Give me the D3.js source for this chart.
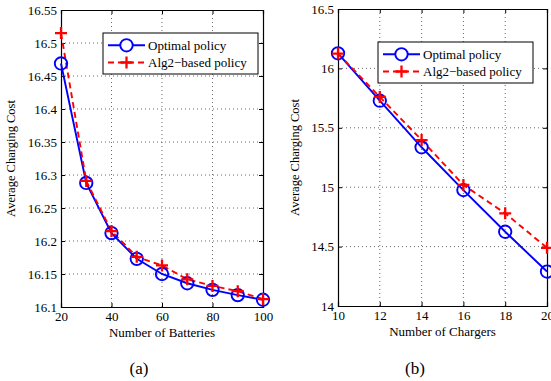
<!DOCTYPE html>
<html><head><meta charset="utf-8">
<script src="https://cdn.jsdelivr.net/npm/d3@7"></script>
<style>body{margin:0;background:#fff}svg{display:block}svg text{font-family:"Liberation Serif","Times New Roman",Times,serif !important}</style>
</head><body>
<svg id="c" width="551" height="381"></svg>
<script>
const batteries = [20,30,40,50,60,70,80,90,100];
const optimalA = [16.469,16.288,16.212,16.173,16.150,16.136,16.126,16.118,16.111];
const alg2A    = [16.515,16.291,16.215,16.176,16.163,16.142,16.132,16.124,16.112];
const chargers = [10,12,14,16,18,20];
const optimalB = [16.127,15.728,15.336,14.976,14.625,14.290];
const alg2B    = [16.125,15.760,15.397,15.019,14.780,14.490];
const xTicksA = [20,40,60,80,100];
const yTicksA = [16.1,16.15,16.2,16.25,16.3,16.35,16.4,16.45,16.5,16.55];
const xTicksB = [10,12,14,16,18,20];
const yTicksB = [14,14.5,15,15.5,16,16.5];
const seriesNames = ["Optimal policy","Alg2\u2212based policy"];

const FONT = '"Liberation Serif","Times New Roman",Times,serif';
const svg = d3.select("#c");

function panel(cfg){
  const g = svg.append("g").attr("font-family",FONT);
  const x = d3.scaleLinear().domain(cfg.xd).range([cfg.l, cfg.r]);
  const y = d3.scaleLinear().domain(cfg.yd).range([cfg.b, cfg.t]);
  // grid
  g.append("g").selectAll("line").data(cfg.xt.slice(1,-1)).join("line")
    .attr("x1",d=>x(d)).attr("x2",d=>x(d)).attr("y1",cfg.t).attr("y2",cfg.b)
    .attr("stroke","#444").attr("stroke-width",0.8).attr("stroke-dasharray","1,3");
  g.append("g").selectAll("line").data(cfg.yt.slice(1,-1)).join("line")
    .attr("y1",d=>y(d)).attr("y2",d=>y(d)).attr("x1",cfg.l).attr("x2",cfg.r)
    .attr("stroke","#444").attr("stroke-width",0.8).attr("stroke-dasharray","1,3");
  // axes
  const fmt = d=>String(+d.toFixed(2));
  const ax = g.append("g").attr("transform",`translate(0,${cfg.b})`)
    .call(d3.axisBottom(x).tickValues(cfg.xt).tickSize(-4).tickPadding(5).tickFormat(fmt));
  const ay = g.append("g").attr("transform",`translate(${cfg.l},0)`)
    .call(d3.axisLeft(y).tickValues(cfg.yt).tickSize(-4).tickPadding(4).tickFormat(fmt));
  const axT = g.append("g").attr("transform",`translate(0,${cfg.t})`)
    .call(d3.axisTop(x).tickValues(cfg.xt).tickSize(-4).tickFormat(""));
  const ayR = g.append("g").attr("transform",`translate(${cfg.r},0)`)
    .call(d3.axisRight(y).tickValues(cfg.yt).tickSize(-4).tickFormat(""));
  [ax,ay,axT,ayR].forEach(a=>{
    a.attr("font-family",FONT).attr("font-size",13);
    a.select(".domain").attr("stroke","#000").attr("stroke-width",1.2);
    a.selectAll(".tick line").attr("stroke","#000");
    a.selectAll("text").attr("fill","#000");
  });
  // lines
  const lineO = d3.line().x((d,i)=>x(cfg.xs[i])).y(d=>y(d));
  g.append("path").attr("d",lineO(cfg.o)).attr("fill","none").attr("stroke","#0000ff").attr("stroke-width",1.9);
  g.append("path").attr("d",lineO(cfg.a)).attr("fill","none").attr("stroke","#ff0000").attr("stroke-width",1.9).attr("stroke-dasharray","6,4");
  g.append("g").selectAll("circle").data(cfg.o).join("circle")
    .attr("cx",(d,i)=>x(cfg.xs[i])).attr("cy",d=>y(d)).attr("r",6.2)
    .attr("fill","none").attr("stroke","#0000ff").attr("stroke-width",1.9);
  const plus = (sel,px,py,s)=>{
    sel.append("path").attr("d",`M${px-s},${py}H${px+s}M${px},${py-s}V${py+s}`)
      .attr("stroke","#ff0000").attr("stroke-width",2.3).attr("fill","none");
  };
  cfg.a.forEach((d,i)=>plus(g,x(cfg.xs[i]),y(d),6));
  // labels
  g.append("text").attr("x",(cfg.l+cfg.r)/2).attr("y",cfg.b+30).attr("text-anchor","middle")
    .attr("font-size",13).text(cfg.xlabel);
  g.append("text").attr("transform",`translate(${cfg.ylx},${(cfg.t+cfg.b)/2}) rotate(-90)`)
    .attr("text-anchor","middle").attr("font-size",12.5).text("Average Charging Cost");
  g.append("text").attr("x",cfg.capx).attr("y",374).attr("text-anchor","middle")
    .attr("font-size",17).text(cfg.cap);
  // legend
  const L = cfg.leg;
  const lg = g.append("g");
  lg.append("rect").attr("x",L.x).attr("y",L.y).attr("width",L.w).attr("height",L.h)
    .attr("fill","#fff").attr("stroke","#000").attr("stroke-width",1);
  const r1 = L.y+L.h*0.3, r2 = L.y+L.h*0.72;
  lg.append("line").attr("x1",L.x+5).attr("x2",L.x+42).attr("y1",r1).attr("y2",r1)
    .attr("stroke","#0000ff").attr("stroke-width",1.9);
  lg.append("circle").attr("cx",L.x+23.5).attr("cy",r1).attr("r",6.2).attr("fill","#fff")
    .attr("stroke","#0000ff").attr("stroke-width",1.9);
  lg.append("line").attr("x1",L.x+5).attr("x2",L.x+42).attr("y1",r2).attr("y2",r2)
    .attr("stroke","#ff0000").attr("stroke-width",1.9).attr("stroke-dasharray","6,4");
  plus(lg,L.x+23.5,r2,6);
  lg.append("text").attr("x",L.x+45).attr("y",r1+4.5).attr("font-size",13).text(seriesNames[0]);
  lg.append("text").attr("x",L.x+45).attr("y",r2+4.5).attr("font-size",13).text(seriesNames[1]);
}

panel({xd:[20,100], yd:[16.1,16.55], l:61, r:263, t:10, b:307,
  xt:xTicksA, yt:yTicksA, xs:batteries, o:optimalA, a:alg2A,
  xlabel:"Number of Batteries", ylx:15, capx:139, cap:"(a)",
  leg:{x:103,y:33,w:155,h:41}});
panel({xd:[10,20], yd:[14,16.5], l:338, r:547, t:9, b:306,
  xt:xTicksB, yt:yTicksB, xs:chargers, o:optimalB, a:alg2B,
  xlabel:"Number of Chargers", ylx:299, capx:415, cap:"(b)",
  leg:{x:378,y:42,w:155,h:41}});
</script>
</body></html>
